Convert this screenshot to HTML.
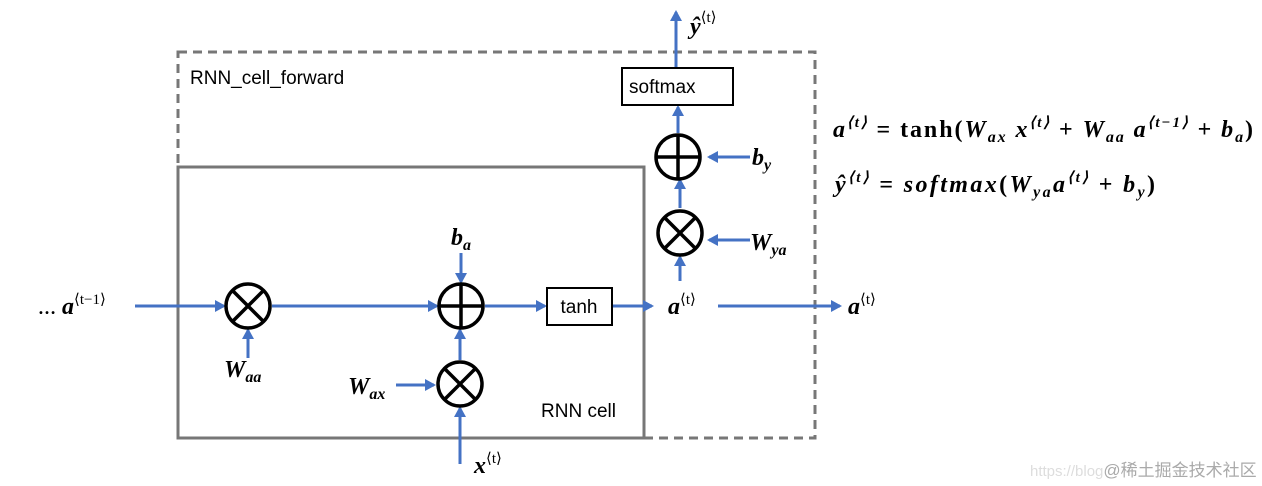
<!DOCTYPE html>
<html><head><meta charset="utf-8"><style>
html,body{margin:0;padding:0;background:#fff;}
svg{display:block;}
.m{font-family:"Liberation Serif",serif;font-weight:bold;font-style:italic;}
.s{font-family:"Liberation Sans",sans-serif;}
</style></head><body>
<svg width="1262" height="486" viewBox="0 0 1262 486" xmlns="http://www.w3.org/2000/svg">
<defs>
<marker id="ar" markerWidth="12" markerHeight="12" refX="9" refY="6" orient="auto" markerUnits="userSpaceOnUse">
<path d="M0,0 L11,6 L0,12 z" fill="#4472c4"/></marker>
</defs>
<rect x="178" y="52" width="637" height="386" fill="none" stroke="#777" stroke-width="3" stroke-dasharray="9,6"/>
<rect x="178" y="167" width="466" height="271" fill="none" stroke="#777" stroke-width="3"/>
<g stroke="#4472c4" stroke-width="3" fill="none" marker-end="url(#ar)">
<line x1="135" y1="306" x2="224" y2="306"/>
<line x1="272" y1="306" x2="437" y2="306"/>
<line x1="485" y1="306" x2="545" y2="306"/>
<line x1="612" y1="306" x2="652" y2="306"/>
<line x1="718" y1="306" x2="840" y2="306"/>
<line x1="461" y1="253" x2="461" y2="282"/>
<line x1="248" y1="358" x2="248" y2="330"/>
<line x1="396" y1="385" x2="434" y2="385"/>
<line x1="460" y1="464" x2="460" y2="408"/>
<line x1="460" y1="360" x2="460" y2="330"/>
<line x1="680" y1="281" x2="680" y2="257"/>
<line x1="680" y1="208" x2="680" y2="180"/>
<line x1="678" y1="133" x2="678" y2="107"/>
<line x1="676" y1="68" x2="676" y2="12"/>
<line x1="750" y1="157" x2="709" y2="157"/>
<line x1="750" y1="240" x2="709" y2="240"/>
</g>
<g stroke="#000" stroke-width="3.5" fill="#fff">
<circle cx="248" cy="306" r="22"/>
<circle cx="461" cy="306" r="22"/>
<circle cx="460" cy="384" r="22"/>
<circle cx="678" cy="157" r="22"/>
<circle cx="680" cy="233" r="22"/>
</g>
<g stroke="#000" stroke-width="3.5">
<line x1="233" y1="291" x2="263" y2="321"/><line x1="263" y1="291" x2="233" y2="321"/>
<line x1="445" y1="369" x2="475" y2="399"/><line x1="475" y1="369" x2="445" y2="399"/>
<line x1="665" y1="218" x2="695" y2="248"/><line x1="695" y1="218" x2="665" y2="248"/>
<line x1="461" y1="285" x2="461" y2="327"/><line x1="440" y1="306" x2="482" y2="306"/>
<line x1="678" y1="136" x2="678" y2="178"/><line x1="657" y1="157" x2="699" y2="157"/>
</g>
<rect x="547" y="288" width="65" height="37" fill="#fff" stroke="#000" stroke-width="2"/>
<rect x="622" y="68" width="111" height="37" fill="#fff" stroke="#000" stroke-width="2"/>
<text x="579" y="313" class="s" font-size="19" text-anchor="middle">tanh</text>
<text x="629" y="93" class="s" font-size="19">softmax</text>
<text x="190" y="84" class="s" font-size="19">RNN_cell_forward</text>
<text x="541" y="417" class="s" font-size="19">RNN cell</text>
<g class="m" font-size="24">
<text x="38" y="314"><tspan font-size="18" font-style="normal">…</tspan> a<tspan font-size="15" dy="-10" font-style="normal" font-weight="normal">⟨t−1⟩</tspan></text>
<text x="668" y="314">a<tspan font-size="15" dy="-10" font-style="normal" font-weight="normal">⟨t⟩</tspan></text>
<text x="848" y="314">a<tspan font-size="15" dy="-10" font-style="normal" font-weight="normal">⟨t⟩</tspan></text>
<text x="690" y="34">ŷ<tspan font-size="15" dy="-12" font-style="normal" font-weight="normal">⟨t⟩</tspan></text>
<text x="451" y="245">b<tspan font-size="16" dy="5">a</tspan></text>
<text x="224" y="377">W<tspan font-size="16" dy="5">aa</tspan></text>
<text x="348" y="394">W<tspan font-size="16" dy="5">ax</tspan></text>
<text x="474" y="473">x<tspan font-size="15" dy="-10" font-style="normal" font-weight="normal">⟨t⟩</tspan></text>
<text x="752" y="165">b<tspan font-size="16" dy="5">y</tspan></text>
<text x="750" y="250">W<tspan font-size="16" dy="5">ya</tspan></text>
<text x="833" y="137" textLength="420" lengthAdjust="spacing">a<tspan font-size="15" dy="-10">⟨t⟩</tspan><tspan dy="10" font-style="normal"> = tanh(</tspan>W<tspan font-size="16" dy="5">ax</tspan><tspan dy="-5"> x</tspan><tspan font-size="15" dy="-10">⟨t⟩</tspan><tspan dy="10" font-style="normal"> + </tspan>W<tspan font-size="16" dy="5">aa</tspan><tspan dy="-5"> a</tspan><tspan font-size="15" dy="-10">⟨t−1⟩</tspan><tspan dy="10" font-style="normal"> + </tspan>b<tspan font-size="16" dy="5">a</tspan><tspan dy="-5" font-style="normal">)</tspan></text>
<text x="835" y="192" textLength="320" lengthAdjust="spacing">ŷ<tspan font-size="15" dy="-10">⟨t⟩</tspan><tspan dy="10" font-style="normal"> = </tspan>softmax<tspan font-style="normal">(</tspan>W<tspan font-size="16" dy="5">ya</tspan><tspan dy="-5">a</tspan><tspan font-size="15" dy="-10">⟨t⟩</tspan><tspan dy="10" font-style="normal"> + </tspan>b<tspan font-size="16" dy="5">y</tspan><tspan dy="-5" font-style="normal">)</tspan></text>
</g>
<text x="1030" y="476" font-family="Liberation Sans,Noto Sans CJK SC,sans-serif" font-size="15" fill="#ddd">https://blog<tspan fill="#aaa" font-size="17">@稀土掘金技术社区</tspan></text>
</svg>
</body></html>
